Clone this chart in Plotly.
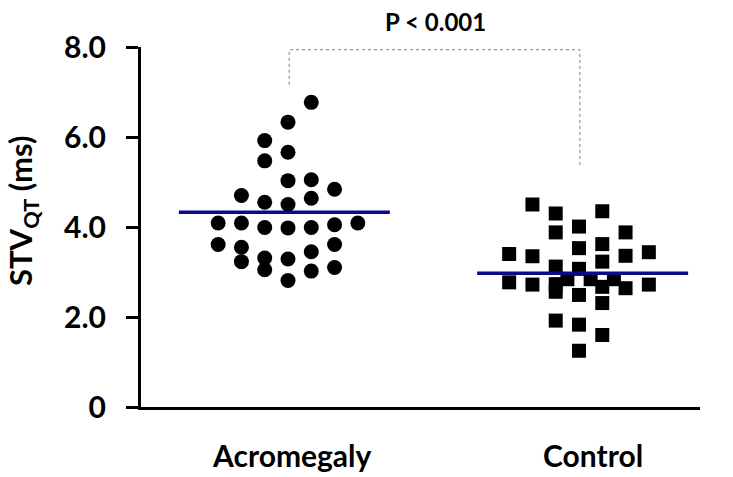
import plotly.graph_objects as go

# ---------------- data ----------------
categories = ["Acromegaly", "Control"]

acro_values = [6.77, 6.33, 5.92, 5.66, 5.47, 5.03, 5.05, 4.84, 4.70, 4.64,
               4.55, 4.50, 4.09, 4.09, 3.99, 3.98, 3.99, 4.05, 4.09, 3.61,
               3.55, 3.61, 3.45, 3.23, 3.31, 3.29, 3.05, 3.02, 3.10, 2.81]
acro_slots = [1, 0, -1, 0, -1, 0, 1, 2, -2, 1,
              -1, 0, -3, -2, -1, 0, 1, 2, 3, -3,
              -2, 2, 1, -2, -1, 0, -1, 1, 2, 0]

ctrl_values = [4.50, 4.30, 4.35, 4.01, 3.88, 3.88, 3.62, 3.53, 3.40, 3.35,
               3.36, 3.44, 3.23, 3.12, 3.07, 2.77, 2.72, 2.72, 2.64, 2.56,
               2.49, 2.31, 1.92, 1.83, 1.60, 1.25, 2.84, 2.84, 2.84, 2.73,
               2.67]
ctrl_slots = [-2, -1, 1, 0, -1, 2, 1, 0, -3, -2,
              2, 3, 1, -1, 0, -3, -2, 3, 2, -1,
              0, 1, -1, 0, 1, 0, -0.5, 0.5, 1.5, -1,
              1]

group_means = [4.33, 2.97]
p_text = "P < 0.001"
y_ticks = [0, 2, 4, 6, 8]
y_tick_labels = ["0", "2.0", "4.0", "6.0", "8.0"]

# ---------------- figure ----------------
FONT = "Lato, 'Open Sans', sans-serif"
SPACING = 0.08
centers = [1, 2]

W, H = 733, 477
L, R, T, B = 141, 33, 47, 70
pw, ph = W - L - R, H - T - B


def px_x(p):
    return (p - L) / pw


def px_y(p):
    return (H - B - p) / ph


fig = go.Figure()

fig.add_trace(go.Scatter(
    x=[centers[0] + s * SPACING for s in acro_slots], y=acro_values,
    mode="markers", marker=dict(symbol="circle", size=15, color="black",
                                line=dict(width=0)),
    showlegend=False, cliponaxis=False))

fig.add_trace(go.Scatter(
    x=[centers[1] + s * SPACING for s in ctrl_slots], y=ctrl_values,
    mode="markers", marker=dict(symbol="square", size=14, color="black",
                                line=dict(width=0)),
    showlegend=False, cliponaxis=False))

# mean lines
half_left = [0.375, 0.35]
half_right = [0.35, 0.375]
for c, m, hl, hr in zip(centers, group_means, half_left, half_right):
    fig.add_trace(go.Scatter(x=[c - hl, c + hr], y=[m, m], mode="lines",
                             line=dict(color="#0a0a8a", width=3.5),
                             showlegend=False, hoverinfo="skip"))

# significance bracket
fig.add_trace(go.Scatter(
    x=[1.004, 1.004, 2.003, 2.003], y=[7.16, 7.94, 7.94, 5.33],
    mode="lines", line=dict(color="#808080", width=1, dash="dot"),
    showlegend=False, hoverinfo="skip", cliponaxis=False))

fig.add_annotation(x=px_x(435.5), y=px_y(21), xref="paper", yref="paper",
                   xanchor="center", yanchor="middle",
                   text=p_text, showarrow=False,
                   font=dict(family=FONT, size=24, color="black", weight="bold"))

# category labels
for lab, cx in zip(categories, [291.7, 593]):
    fig.add_annotation(x=px_x(cx), y=px_y(455), xref="paper", yref="paper",
                       xanchor="center", yanchor="middle",
                       text=lab, showarrow=False,
                       font=dict(family=FONT, size=30, color="black", weight="bold"))

# y axis title
fig.add_annotation(x=px_x(22), y=px_y(211), xref="paper", yref="paper",
                   xanchor="center", yanchor="middle",
                   text="STV<sub>QT</sub> (ms)", showarrow=False,
                   textangle=-90,
                   font=dict(family=FONT, size=31, color="black", weight="bold"))

fig.update_layout(
    width=W, height=H,
    margin=dict(l=L, r=R, t=T, b=B),
    paper_bgcolor="white", plot_bgcolor="white",
    font=dict(family=FONT, color="black"),
    hovermode=False,
    xaxis=dict(range=[1 - (288 - L) / 291, 2 + (W - R - 579) / 291],
               showgrid=False, zeroline=False, showticklabels=False,
               ticks="", showline=True, linecolor="black", linewidth=3),
    yaxis=dict(range=[0, 8], tickvals=y_ticks, ticktext=y_tick_labels,
               showgrid=False, zeroline=False, showline=True,
               linecolor="black", linewidth=3, ticks="outside", ticklen=12,
               tickwidth=3, tickcolor="black", ticklabelstandoff=14,
               tickfont=dict(family=FONT, size=30, color="black", weight="bold")),
)

fig.write_html("out.html", config={"displayModeBar": False},
               post_script="document.body.style.margin='0';")
